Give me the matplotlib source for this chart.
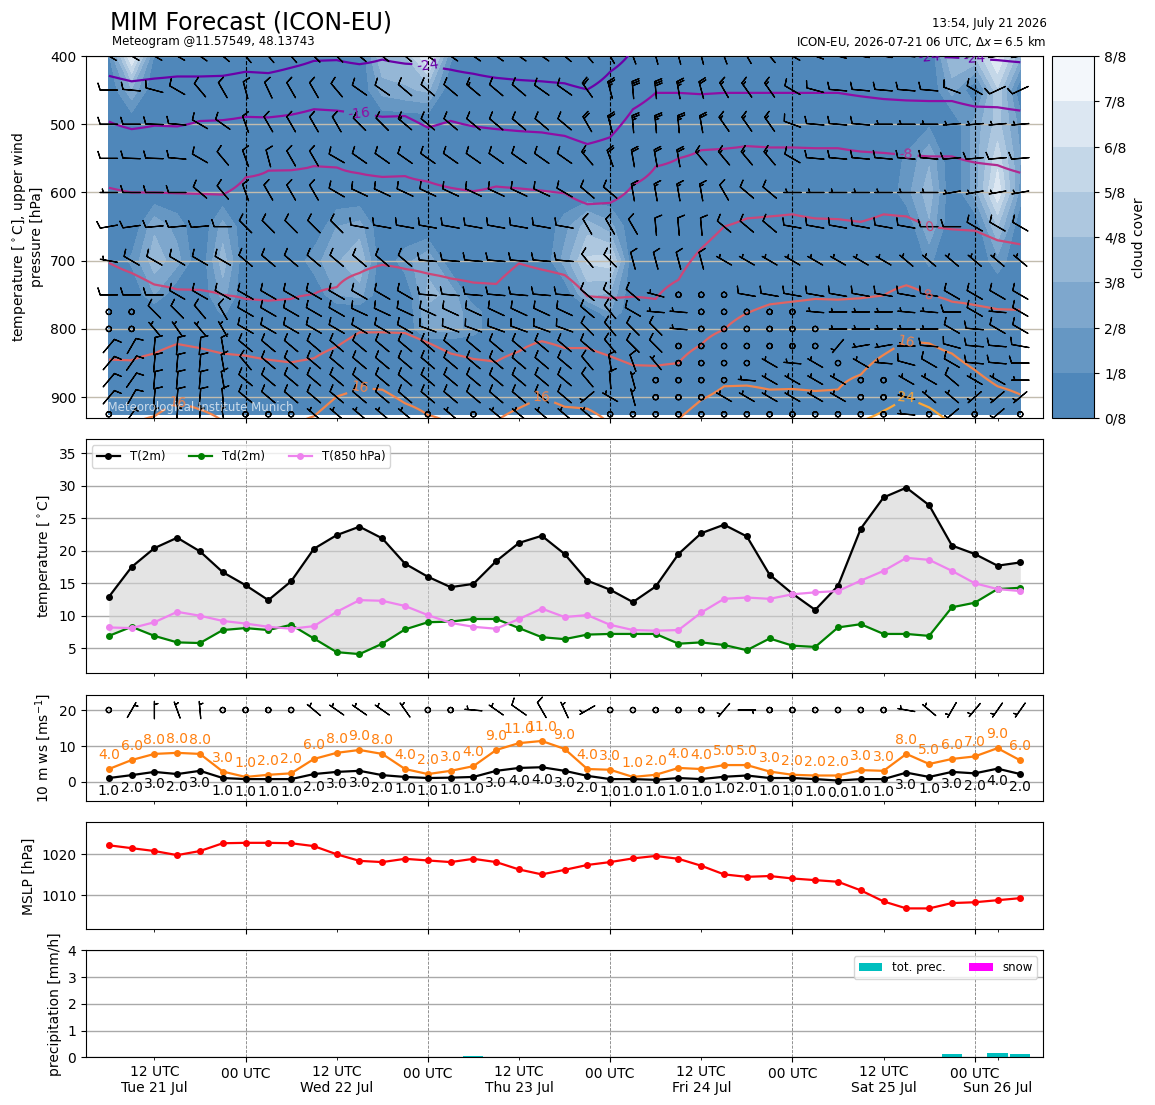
import numpy as np
import pandas as pd
import matplotlib
matplotlib.use("Agg")
import matplotlib.pyplot as plt
import matplotlib.dates as mdates
from matplotlib.colors import ListedColormap, Normalize

# ---------------- data ----------------
times = pd.date_range("2026-07-21 06:00", periods=41, freq="3h")

t2m = [12.9, 17.5, 20.4, 22.0, 19.9, 16.7, 14.7, 12.4, 15.3, 20.3,
       22.4, 23.7, 21.9, 18.0, 16.0, 14.4, 14.9, 18.4, 21.2, 22.3,
       19.5, 15.4, 14.0, 12.1, 14.5, 19.5, 22.7, 24.0, 22.2, 16.3,
       13.4, 10.9, 14.6, 23.4, 28.2, 29.7, 27.0, 20.8, 19.5, 17.7, 18.2]
td2m = [6.9, 8.3, 6.9, 5.9, 5.8, 7.8, 8.1, 7.8, 8.6, 6.5,
        4.4, 4.1, 5.7, 7.9, 9.0, 9.1, 9.5, 9.5, 8.1, 6.7,
        6.4, 7.1, 7.2, 7.2, 7.2, 5.7, 5.9, 5.5, 4.7, 6.5,
        5.4, 5.2, 8.2, 8.7, 7.2, 7.2, 6.9, 11.3, 12.0, 14.1, 14.3]
t850 = [8.2, 8.1, 9.0, 10.6, 10.0, 9.2, 8.8, 8.3, 8.0, 8.4,
        10.6, 12.4, 12.3, 11.5, 10.1, 8.9, 8.3, 8.0, 9.5, 11.1,
        9.8, 10.1, 8.6, 7.8, 7.7, 7.8, 10.5, 12.6, 12.8, 12.6,
        13.3, 13.6, 13.8, 15.4, 16.9, 18.9, 18.6, 16.9, 15.0, 14.1, 13.8]

gust10 = [3.6, 6.1, 7.8, 8.1, 7.8, 2.9, 1.4, 2.0, 2.4, 6.4,
          8.1, 8.9, 7.8, 3.6, 2.2, 3.1, 4.4, 8.9, 10.8, 11.4,
          9.2, 3.6, 3.4, 1.4, 2.0, 3.9, 3.6, 4.7, 4.7, 2.9,
          2.0, 1.8, 1.8, 3.3, 3.1, 7.8, 5.0, 6.4, 7.1, 9.4, 6.0]
wind10 = [1.1, 1.9, 2.8, 2.2, 3.1, 1.1, 0.8, 0.8, 0.8, 2.2,
          2.8, 3.1, 1.9, 1.4, 1.1, 1.2, 1.4, 3.1, 3.9, 4.1,
          3.1, 1.7, 0.8, 0.8, 0.6, 1.1, 0.8, 1.45, 1.8, 1.1,
          1.1, 0.8, 0.4, 0.8, 0.8, 2.6, 1.4, 2.8, 2.4, 3.7, 2.2]
wdir10 = [0, 30, 360, 340, 355, 0, 0, 0, 0, 310,
          305, 305, 305, 325, 0, 0, 275, 305, 305, 330,
          335, 240, 0, 0, 0, 0, 0, 220, 90, 0,
          0, 0, 0, 0, 0, 280, 310, 210, 220, 215, 215]

mslp = [1022.2, 1021.5, 1020.8, 1019.8, 1020.8, 1022.7, 1022.8, 1022.8, 1022.7, 1022.0,
        1020.0, 1018.4, 1018.1, 1018.9, 1018.5, 1018.1, 1018.9, 1018.1, 1016.3, 1015.1,
        1016.2, 1017.4, 1018.1, 1019.0, 1019.6, 1018.9, 1017.2, 1015.1, 1014.5, 1014.7,
        1014.1, 1013.7, 1013.3, 1011.2, 1008.5, 1006.8, 1006.8, 1008.1, 1008.3, 1008.8, 1009.3]

tot_prec = [0, 0, 0, 0, 0, 0, 0, 0, 0, 0,
            0, 0, 0, 0, 0, 0, 0.04, 0, 0, 0,
            0, 0, 0, 0, 0, 0, 0, 0, 0, 0,
            0, 0, 0, 0, 0, 0, 0, 0.12, 0, 0.16, 0.12]
snow = [0, 0, 0, 0, 0, 0, 0, 0, 0, 0,
        0, 0, 0, 0, 0, 0, 0, 0, 0, 0,
        0, 0, 0, 0, 0, 0, 0, 0, 0, 0,
        0, 0, 0, 0, 0, 0, 0, 0, 0, 0, 0]

# upper-air levels (hPa)
plev = [400, 450, 500, 550, 600, 650, 700, 750, 775, 800, 825, 850, 875, 900, 925]

# wind direction (deg, from) and speed (kt) per level
wd400 = [300,300,300,300,305,310,320,320,320,315,315,310,310,310,305,305,305,305,305,305,
         310,320,330,340,345,345,345,340,330,320,300,290,285,280,280,275,270,270,265,260,260]
ws400 = [15,15,15,15,15,15,15,15,15,15,15,15,15,15,15,15,15,15,15,15,
         20,25,25,30,30,30,25,25,20,15,15,12,12,10,10,10,10,10,10,10,10]
wd450 = [270,275,285,300,320,330,345,335,330,330,320,305,305,310,310,310,310,310,310,305,
         305,325,345,355,355,350,345,330,325,325,300,285,275,275,275,275,275,290,300,245,245]
ws450 = [12,12,12,12,12,12,12,12,12,12,12,12,12,12,12,12,15,12,12,12,
         12,20,25,30,30,25,20,15,15,15,12,12,10,10,8,8,8,10,10,10,10]
wd500 = [270,270,272,275,300,305,340,330,330,330,330,315,315,310,310,310,310,310,310,310,
         310,330,345,355,355,355,350,325,325,325,290,275,275,275,270,270,270,265,265,265,265]
ws500 = [8,10,10,10,12,12,12,12,12,12,12,12,12,15,12,12,12,12,12,12,
         12,20,20,25,25,25,20,15,15,15,12,10,10,8,6,6,6,7,7,7,7]
wd550 = [270,272,272,275,300,320,340,345,330,330,300,305,305,305,305,305,305,305,305,305,
         305,320,340,350,350,350,320,320,320,320,300,275,275,275,275,275,275,265,265,265,265]
ws550 = [10,12,12,12,12,12,12,12,12,12,10,10,10,12,12,12,12,12,12,12,
         12,15,18,20,20,20,15,15,15,15,12,10,10,10,10,10,10,8,8,8,8]
wd600 = [270,270,270,270,310,320,340,330,330,330,300,295,295,295,295,295,295,295,295,295,
         300,310,310,350,350,350,350,330,310,310,270,270,270,270,270,270,270,260,260,260,260]
ws600 = [6,10,10,10,12,12,12,12,12,12,10,10,10,10,10,10,10,10,10,10,
         10,12,12,15,15,15,15,12,12,12,6,6,6,6,6,6,6,6,6,6,6]
wd650 = [260,262,265,265,265,270,315,315,315,315,315,280,280,280,280,280,280,280,280,280,
         280,330,330,330,355,355,355,310,310,310,280,280,280,280,280,280,270,270,300,300,300]
ws650 = [10,10,12,10,10,10,10,10,10,10,10,10,10,12,10,10,12,10,10,10,
         10,10,10,10,10,10,10,10,10,10,10,10,12,10,10,10,10,10,10,10,10]
wd700 = [280,300,300,300,300,300,310,310,310,310,310,310,310,310,275,275,275,275,275,275,
         275,320,315,345,345,345,345,300,300,300,300,300,300,300,300,310,310,310,310,310,310]
ws700 = [6,8,8,8,8,8,10,10,10,10,10,10,10,10,8,8,8,8,8,8,
         8,10,10,8,8,8,8,7,7,7,7,7,7,7,7,7,7,7,7,7,7]
wd750 = [270,270,270,300,300,300,300,300,300,300,300,300,300,300,275,275,275,275,275,275,
         275,310,310,310,285,0,0,0,280,280,280,280,280,280,280,280,280,300,300,300,300]
ws750 = [8,8,8,10,10,10,10,10,10,10,10,10,10,10,10,10,10,10,10,10,
         10,10,10,10,5,0,0,0,8,8,8,8,8,8,8,8,8,8,8,8,8]
wd775 = [0,0,315,315,320,330,300,300,300,300,300,295,295,295,295,295,295,295,295,295,
         295,310,320,300,275,275,0,0,0,0,0,275,270,270,270,275,275,270,300,275,300]
ws775 = [0,0,8,8,8,8,8,10,10,10,10,10,10,10,10,10,10,10,10,10,
         10,10,10,8,5,5,0,0,0,0,0,5,5,5,5,5,5,8,8,5,8]
wd800 = [0,0,320,325,320,330,300,300,300,300,300,300,300,300,290,290,290,290,290,290,
         290,315,320,315,315,275,0,0,0,0,0,0,270,270,270,270,270,300,275,300,300]
ws800 = [0,0,7,7,7,7,8,8,8,8,8,8,8,8,8,8,8,8,8,8,
         8,10,10,8,8,5,0,0,0,0,0,0,5,5,5,5,5,8,8,8,8]
wd825 = [40,30,5,5,5,350,310,310,310,310,310,310,310,310,310,310,310,310,310,310,
         310,310,320,315,315,0,0,0,0,0,0,0,220,260,260,270,275,285,275,275,280]
ws825 = [8,8,8,8,8,8,8,8,8,8,8,8,8,8,8,8,8,8,8,8,
         8,10,10,8,8,0,0,0,0,0,0,0,5,5,5,5,8,8,8,8,8]
wd850 = [40,35,5,5,5,350,320,310,310,310,310,310,310,310,310,310,310,310,310,310,
         310,320,350,340,320,0,0,0,0,300,275,300,0,300,275,285,300,300,275,275,270]
ws850 = [10,8,8,8,8,8,8,8,8,8,8,8,8,8,8,8,8,8,8,8,
         8,10,8,8,5,0,0,0,0,5,5,5,0,5,5,8,8,8,8,8,8]
wd875 = [40,35,5,5,5,350,310,310,310,310,310,310,310,310,310,310,310,310,310,310,
         310,320,355,345,0,0,0,0,275,300,300,300,300,0,0,300,300,310,300,300,270]
ws875 = [10,8,8,8,8,8,8,8,8,8,8,8,8,8,8,8,8,8,8,8,
         8,8,8,5,0,0,0,0,5,5,5,5,5,0,0,5,5,8,5,5,5]
wd900 = [40,30,5,5,5,355,310,310,310,310,310,310,310,310,310,310,310,310,310,310,
         310,230,300,345,0,0,0,300,300,300,300,300,300,0,0,285,310,310,230,230,230]
ws900 = [8,8,8,8,8,8,8,8,8,8,8,8,8,8,8,8,8,8,8,8,
         8,5,5,5,0,0,0,5,5,5,5,5,5,0,0,5,5,5,5,5,5]
wd925 = [0,35,5,5,5,350,0,0,0,310,310,310,310,310,0,310,0,310,310,310,
         310,310,0,0,0,0,0,0,0,0,0,0,0,0,0,275,0,230,0,230,0]
ws925 = [0,5,5,5,5,5,0,0,0,5,5,5,5,5,0,5,0,5,5,5,
         5,5,0,0,0,0,0,0,0,0,0,0,0,0,0,5,0,5,0,5,0]

# isotherm pressure heights (hPa) for each time step
iso_temps = [-24, -16, -8, 0, 8, 16, 24]
iso_m24 = [429,437,433,430,430,429,423,425,417,407,406,412,405,411,413,420,426,432,435,437,
           440,449,423,390,380,380,380,380,380,380,380,380,380,385,390,395,401,402,404,406,409]
iso_m16 = [496,507,502,503,495,494,489,490,486,478,480,484,489,488,505,495,503,507,510,512,
           517,529,519,478,454,454,456,454,454,454,454,454,454,459,463,465,466,466,474,475,480]
iso_m08 = [593,600,600,601,602,603,578,568,567,561,563,572,577,576,584,593,598,591,594,597,
           601,617,615,589,562,550,538,536,532,534,534,535,535,540,542,545,547,547,556,560,571]
iso_p00 = [703,718,735,742,743,750,756,759,756,749,739,718,706,712,719,726,732,734,704,713,
           721,752,755,753,756,728,682,650,638,635,632,638,639,643,632,635,650,654,656,670,676]
iso_p08 = [845,846,836,822,828,836,839,845,849,843,826,805,805,806,820,836,844,848,833,818,
           828,828,840,853,854,850,823,801,777,764,760,756,757,755,751,736,750,760,765,771,772]
iso_p16 = [945,940,928,908,918,935,950,950,945,928,899,886,889,909,926,940,945,935,916,900,
           914,917,940,950,950,932,904,884,883,889,888,891,889,867,838,818,821,836,860,884,896]
iso_p24 = [985,985,985,985,985,985,985,985,985,985,985,985,985,985,985,985,985,985,985,985,
           985,985,985,985,985,985,985,985,985,985,985,985,985,935,920,900,915,940,985,985,985]

# cloud cover patches: (time index, level hPa, fraction)
cloud_patches = [
    (0, 400, 0.10), (1, 400, 0.90), (2, 400, 0.10), (1, 450, 0.35),
    (12, 400, 0.50), (13, 400, 0.50), (14, 400, 0.90), (15, 400, 0.15),
    (12, 450, 0.30), (13, 450, 0.35), (14, 450, 0.40),
    (1, 700, 0.15), (2, 650, 0.35), (2, 700, 0.45), (2, 750, 0.25), (3, 650, 0.20), (3, 700, 0.30),
    (5, 650, 0.30), (5, 700, 0.45), (5, 750, 0.30), (5, 775, 0.15),
    (9, 700, 0.20), (10, 650, 0.25), (10, 700, 0.35), (10, 750, 0.25),
    (11, 650, 0.30), (11, 700, 0.50), (11, 750, 0.30),
    (13, 700, 0.20), (14, 700, 0.35), (14, 750, 0.40), (14, 775, 0.35), (14, 800, 0.30),
    (15, 750, 0.35), (15, 775, 0.30), (15, 800, 0.30), (16, 775, 0.20), (16, 800, 0.20),
    (20, 650, 0.20), (20, 700, 0.30), (21, 650, 0.45), (21, 700, 0.65), (21, 750, 0.40),
    (22, 650, 0.30), (22, 700, 0.70), (22, 750, 0.35), (22, 775, 0.25),
    (35, 550, 0.15), (35, 600, 0.20), (36, 500, 0.10), (36, 550, 0.35), (36, 600, 0.45),
    (36, 650, 0.35), (36, 700, 0.15),
    (37, 400, 0.50), (37, 450, 0.30),
    (38, 400, 0.50), (38, 500, 0.30), (38, 550, 0.30), (38, 600, 0.30),
    (39, 400, 0.90), (39, 450, 0.60), (39, 500, 0.55), (39, 550, 0.70), (39, 600, 0.85),
    (39, 650, 0.50), (39, 700, 0.20),
    (40, 400, 0.40), (40, 500, 0.20), (40, 550, 0.25), (40, 600, 0.20),
]

major_ticks = pd.date_range("2026-07-22", periods=5, freq="D")
major_labels = ["00 UTC", "00 UTC", "00 UTC", "00 UTC", "00 UTC"]
minor_ticks = pd.to_datetime(["2026-07-21 12:00", "2026-07-22 12:00", "2026-07-23 12:00",
                              "2026-07-24 12:00", "2026-07-25 12:00", "2026-07-26 03:00"])
minor_labels = ["12 UTC\nTue 21 Jul", "12 UTC\nWed 22 Jul", "12 UTC\nThu 23 Jul",
                "12 UTC\nFri 24 Jul", "12 UTC\nSat 25 Jul", "\nSun 26 Jul"]

# ---------------- figure ----------------
xn = mdates.date2num(times)
xlim = (mdates.date2num(pd.Timestamp("2026-07-21 03:00")),
        mdates.date2num(pd.Timestamp("2026-07-26 09:00")))

fig = plt.figure(figsize=(11.55, 11.05), dpi=100)
L, W = 0.0745, 0.8286
ax0 = fig.add_axes([L, 0.6214, W, 0.3279])
cax = fig.add_axes([0.9106, 0.6214, 0.0369, 0.3279])
ax1 = fig.add_axes([L, 0.3907, W, 0.2118], sharex=ax0)
ax2 = fig.add_axes([L, 0.2754, W, 0.0957], sharex=ax0)
ax3 = fig.add_axes([L, 0.1590, W, 0.0968], sharex=ax0)
ax4 = fig.add_axes([L, 0.0432, W, 0.0968], sharex=ax0)

BARB_LEN = 5.0

# ---- top panel: cloud cover, isotherms, wind barbs
cloud = np.zeros((len(plev), len(times)))
for i, lev, v in cloud_patches:
    cloud[plev.index(lev), i] = v

c0 = np.array([79, 135, 186]) / 255
c1 = np.array([243, 247, 251]) / 255
ccols = [tuple(c0 + (c1 - c0) * k / 7) for k in range(8)]
cmap_cloud = ListedColormap(ccols)
cf = ax0.contourf(xn, plev, cloud, levels=np.linspace(0, 1, 9), cmap=cmap_cloud,
                  vmin=0, vmax=1, zorder=0)

iso_rows = [iso_m24, iso_m16, iso_m08, iso_p00, iso_p08, iso_p16, iso_p24]
p_fine = np.arange(380, 952, 2.0)
tfield = np.zeros((len(p_fine), len(times)))
for j in range(len(times)):
    pp = [250] + [row[j] for row in iso_rows] + [1100]
    tt = [-48] + iso_temps + [40]
    tfield[:, j] = np.interp(p_fine, pp, tt)
cs = ax0.contour(xn, p_fine, tfield, levels=iso_temps, cmap="plasma",
                 norm=Normalize(-40, 40), linewidths=1.6, zorder=3)
lab_pos = [(xn[14], 411), (xn[36], 402), (xn[38], 404), (xn[11], 484), (xn[35], 545),
           (xn[36], 650), (xn[36], 750), (xn[3], 908), (xn[11], 886), (xn[19], 900),
           (xn[35], 819), (xn[35], 900)]
ax0.clabel(cs, fmt="%d", fontsize=10, inline=True, manual=lab_pos)

wd_rows = [wd400, wd450, wd500, wd550, wd600, wd650, wd700, wd750, wd775, wd800, wd825,
           wd850, wd875, wd900, wd925]
ws_rows = [ws400, ws450, ws500, ws550, ws600, ws650, ws700, ws750, ws775, ws800, ws825,
           ws850, ws875, ws900, ws925]
WD = np.radians(np.array(wd_rows, dtype=float))
WS = np.array(ws_rows, dtype=float)
U = -WS * np.sin(WD)
V = -WS * np.cos(WD)
XX, PP = np.meshgrid(xn, plev)
ax0.barbs(XX, PP, U, V, length=BARB_LEN, pivot="middle", linewidth=0.9, color="k", zorder=4)

ax0.set_ylim(931, 400)
ax0.set_yticks([400, 500, 600, 700, 800, 900])
ax0.set_xlim(*xlim)
ax0.grid(axis="y", color="#c2bcae", lw=1.0)
ax0.grid(axis="x", which="major", color="k", ls="--", lw=0.8)
ax0.set_ylabel("temperature [$^\\circ$C], upper wind\npressure [hPa]", fontsize=10)
ax0.text(0.006, 0.012, "\u00a9 Meteorological Institute Munich", transform=ax0.transAxes,
         color="white", alpha=0.7, fontsize=8.5, ha="left", va="bottom", zorder=6)

cb = fig.colorbar(cf, cax=cax, ticks=np.linspace(0, 1, 9))
cb.ax.set_yticklabels([f"{k}/8" for k in range(9)])
cb.set_label("cloud cover", fontsize=10)

# ---- temperature panel
ax1.fill_between(xn, td2m, t2m, color="lightgray", alpha=0.6, lw=0)
ax1.plot(xn, t2m, "-o", color="k", ms=4, lw=1.6, label="T(2m)")
ax1.plot(xn, td2m, "-o", color="green", ms=4, lw=1.6, label="Td(2m)")
ax1.plot(xn, t850, "-o", color="violet", ms=4, lw=1.6, label="T(850 hPa)")
ax1.set_ylim(1.15, 37.15)
ax1.set_yticks([5, 10, 15, 20, 25, 30, 35])
ax1.set_ylabel("temperature [$^\\circ$C]", fontsize=10)
ax1.legend(loc="upper left", ncol=3, fontsize=8.5)

# ---- 10 m wind panel
ax2.plot(xn, gust10, "-o", color="tab:orange", ms=4, lw=1.6)
ax2.plot(xn, wind10, "-o", color="k", ms=4, lw=1.6)
for x, g in zip(xn, gust10):
    ax2.annotate(f"{np.round(g):.1f}", (x, g), xytext=(0, 5), textcoords="offset points",
                 ha="center", va="bottom", color="tab:orange", fontsize=10)
for x, w in zip(xn, wind10):
    ax2.annotate(f"{np.round(w):.1f}", (x, w), xytext=(0, -4), textcoords="offset points",
                 ha="center", va="top", color="k", fontsize=10)
wk = np.array(wind10) * 1.944
wdr = np.radians(np.array(wdir10, dtype=float))
ax2.barbs(xn, np.full(len(xn), 20.0), -wk * np.sin(wdr), -wk * np.cos(wdr),
          length=BARB_LEN, pivot="middle", linewidth=0.9, color="k")
ax2.set_ylim(-5.2, 24.2)
ax2.set_yticks([0, 10, 20])
ax2.set_ylabel("10 m ws [ms$^{-1}$]", fontsize=10)

# ---- MSLP panel
ax3.plot(xn, mslp, "-o", color="red", ms=4, lw=1.6)
ax3.set_ylim(1001.7, 1027.8)
ax3.set_yticks([1010, 1020])
ax3.set_ylabel("MSLP [hPa]", fontsize=10)

# ---- precipitation panel
ax4.bar(xn, tot_prec, width=0.11, color="c", label="tot. prec.")
ax4.bar(xn, snow, width=0.11, color="magenta", label="snow")
ax4.set_ylim(0, 4)
ax4.set_yticks([0, 1, 2, 3, 4])
ax4.set_ylabel("precipitation [mm/h]", fontsize=10)
ax4.legend(loc="upper right", ncol=2, fontsize=8.5)

for ax in (ax1, ax2, ax3, ax4):
    ax.grid(axis="y", color="darkgray", lw=1.0)
    ax.grid(axis="x", which="major", color="gray", ls="--", lw=0.6)
    ax.set_axisbelow(True)

ax4.set_xticks(mdates.date2num(major_ticks), labels=major_labels)
ax4.set_xticks(mdates.date2num(minor_ticks), labels=minor_labels, minor=True)
ax4.set_xlim(*xlim)
for ax in (ax0, ax1, ax2, ax3):
    ax.tick_params(axis="x", which="both", labelbottom=False)
for ax in (ax0, ax1, ax2, ax3, ax4, cax):
    ax.tick_params(labelsize=10)

fig.text(0.0952, 0.980, "MIM Forecast (ICON-EU)", fontsize=17, va="center", ha="left")
fig.text(0.0970, 0.9628, "Meteogram @11.57549, 48.13743", fontsize=8.5, va="center", ha="left")
fig.text(0.906, 0.979, "13:54, July 21 2026", fontsize=8.5, va="center", ha="right")
fig.text(0.906, 0.9628, "ICON-EU, 2026-07-21 06 UTC, $\\Delta x = 6.5$ km", fontsize=8.5,
         va="center", ha="right")

fig.savefig("out.png", dpi=100)
